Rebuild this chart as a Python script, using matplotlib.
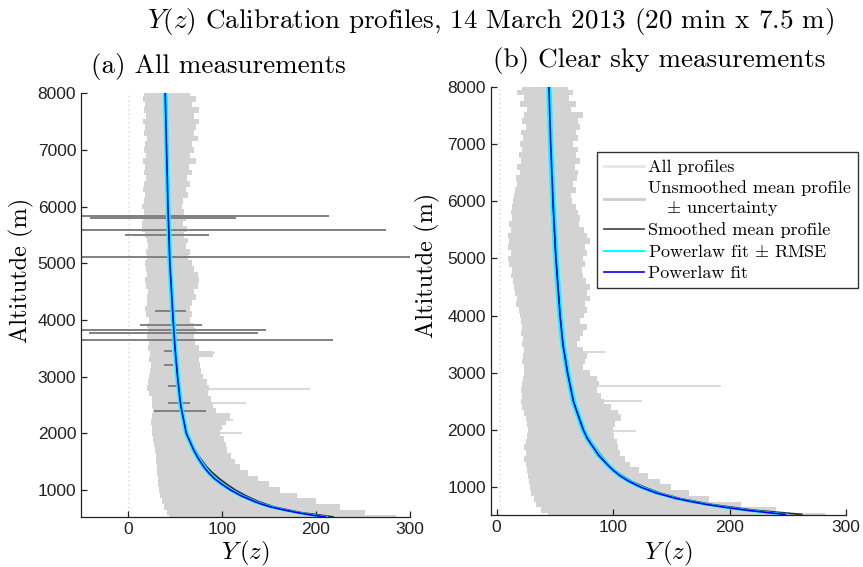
import numpy as np
import matplotlib.pyplot as plt
from matplotlib.lines import Line2D

plt.rcParams['mathtext.fontset'] = 'cm'
plt.rcParams['font.family'] = ['Liberation Sans', 'DejaVu Sans']
CM = 'cmr10'

# altitude grid of the profile envelopes (m), top to bottom
alt = np.arange(8000, 499, -100)

# (a) all measurements : edges of the grey profile band
band_a_left = [17, 16, 18, 17, 19, 16, 18, 17, 20, 18,
               17, 19, 16, 18, 17, 19, 17, 16, 18, 17,
               15, 17, 16, 15, 15, 18, 20, 21, 19, 20,
               18, 19, 20, 18, 19, 21, 20, 20, 18, 19,
               22, 20, 21, 20, 22, 21, 23, 22, 24, 23,
               22, 21, 20, 22, 25, 26, 27, 26, 24, 25,
               26, 27, 28, 29, 30, 30, 31, 31, 32, 32,
               33, 34, 36, 38, 41, 44]
band_a_right = [66, 72, 68, 75, 70, 76, 72, 70, 74, 68,
                70, 66, 72, 65, 68, 63, 66, 62, 64, 58,
                57, 60, 62, 58, 63, 60, 64, 62, 66, 64,
                68, 70, 74, 76, 74, 70, 72, 68, 66, 68,
                66, 70, 72, 70, 71, 76, 90, 75, 77, 78,
                80, 84, 86, 85, 88, 90, 94, 108, 104, 100,
                98, 102, 104, 105, 110, 114, 119, 128, 138, 150,
                162, 180, 200, 226, 252, 285]

# (b) clear sky measurements
band_b_left = [22, 18, 24, 20, 26, 24, 22, 25, 21, 23,
               20, 22, 19, 21, 18, 20, 17, 18, 16, 15,
               14, 13, 12, 13, 11, 12, 10, 11, 10, 12,
               10, 11, 13, 12, 14, 15, 16, 18, 17, 19,
               20, 21, 22, 21, 23, 22, 24, 23, 22, 24,
               24, 23, 22, 21, 22, 21, 22, 24, 25, 26,
               27, 26, 25, 24, 25, 24, 25, 26, 27, 28,
               29, 30, 32, 34, 38, 44]
band_b_right = [61, 66, 62, 68, 64, 74, 70, 72, 68, 70,
                66, 70, 68, 72, 67, 70, 69, 66, 68, 64,
                65, 68, 70, 72, 71, 75, 78, 80, 76, 78,
                74, 76, 73, 74, 77, 80, 78, 80, 76, 78,
                75, 72, 78, 74, 72, 69, 74, 78, 76, 74,
                80, 86, 88, 86, 90, 92, 98, 104, 107, 102,
                100, 101, 103, 104, 106, 110, 115, 122, 130, 140,
                150, 165, 182, 210, 240, 282]

# single long profile spikes (altitude, max Y)
spike_a_alt = [2779, 2533, 2237, 2002, 3410]
spike_a_x = [194, 126, 112, 121, 93]
spike_b_alt = [2768, 2506, 2270, 1982, 3368]
spike_b_x = [193, 125, 107, 120, 93]

# uncertainty bars of the unsmoothed mean, panel (a)
eb_alt = [5836, 5795, 5589, 5500, 5118, 4150, 3920, 3826, 3767, 3655, 3454, 3207, 2830, 2531, 2402]
eb_lo = [-55, -40, -55, -3, -55, 29, 13, -55, -42, -55, 38, 38, 43, 42, 28]
eb_hi = [214, 115, 274, 86, 305, 62, 79, 147, 138, 218, 47, 48, 52, 66, 83]

# smoothed mean profiles
sm_alt = [525, 600, 700, 800, 900, 1000, 1100, 1200, 1300, 1400, 1600,
          1800, 2000, 2300, 2600, 3000, 3500, 4000, 4500, 5000, 5500, 6000]
sm_a = [218, 184, 155, 138, 125, 114, 105, 97, 90, 84, 75,
        68, 63, 58, 55, 52, 50, 48, 47, 45, 44, 43]
sm_b = [262, 220, 184, 158, 140, 127, 116, 108, 101, 96, 88,
        81, 75, 69, 65, 61, 57, 55, 53, 51, 49, 48]

# power law fits
fit_alt = [525, 550, 600, 650, 700, 750, 800, 900, 1000, 1100, 1200, 1300, 1400,
           1550, 1700, 1850, 2000, 2500, 3000, 3500, 4000, 5000, 6000, 7000, 8000]
fit_a = [210, 198, 180, 165, 152, 142, 134, 120, 109, 100, 92, 86, 81,
         75, 70, 66, 62, 56, 52.7, 50, 48, 44.5, 42.5, 41, 39.6]
fit_b = [248, 236, 214, 196, 180, 167, 155, 137, 124, 114, 106, 100, 95,
         88, 83, 78, 74.5, 66, 61, 57, 54.5, 51, 48.5, 46.5, 45]
rmse = 1.5

fig = plt.figure(figsize=(8.63, 5.67), dpi=100)
ax1 = fig.add_axes([0.0939, 0.0887, 0.3812, 0.7467])
ax2 = fig.add_axes([0.5686, 0.0912, 0.4117, 0.7559])

panels = [
    (ax1, band_a_left, band_a_right, spike_a_alt, spike_a_x, sm_a, fit_a, (-50, 300), (528, 8000), 1),
    (ax2, band_b_left, band_b_right, spike_b_alt, spike_b_x, sm_b, fit_b, (-5, 300), (510, 8000), 3),
]

for ax, bl, br, s_alt, s_x, sm, fit, xl, yl, xdot in panels:
    ax.plot([xdot, xdot], [yl[0], 8000], color='#e2e2e2', ls=':', lw=1.2, zorder=1)
    ax.fill_betweenx(alt, bl, br, step='mid', color='#d3d3d3', lw=0, zorder=1)
    ax.hlines(s_alt, 50, s_x, color='#d3d3d3', lw=1.2, zorder=1)
    ax.plot(sm, sm_alt, color='#303030', lw=1.3, zorder=3)
    f = np.array(fit)
    ax.plot(f - rmse, fit_alt, color='cyan', lw=1.4, zorder=4)
    ax.plot(f + rmse, fit_alt, color='cyan', lw=1.4, zorder=4)
    ax.plot(f, fit_alt, color='blue', lw=1.2, zorder=5)

    ax.set_xlim(*xl)
    ax.set_ylim(*yl)
    ax.set_xticks([0, 100, 200, 300])
    ax.set_yticks(range(1000, 8001, 1000))
    for s in ['top', 'right']:
        ax.spines[s].set_visible(False)
    for s in ['left', 'bottom']:
        ax.spines[s].set_color('#222222')
        ax.spines[s].set_linewidth(0.9)
    ax.tick_params(direction='in', length=4, width=0.9, labelsize=12.5, colors='#222222')
    ax.set_ylabel('Altitutde (m)', family=CM, fontsize=17.5)
    ax.set_xlabel(r'$Y\,(z)$', fontsize=18)

ax1.hlines(eb_alt, eb_lo, eb_hi, color='#808080', lw=1.4, zorder=2)

ax1.yaxis.set_label_coords(-0.143, 0.583)
ax2.yaxis.set_label_coords(-0.143, 0.584)
ax1.xaxis.set_label_coords(0.50, -0.052)
ax2.xaxis.set_label_coords(0.50, -0.055)

fig.text(0.568, 0.951, r'$Y(z)$ Calibration profiles, 14 March 2013 (20 min x 7.5 m)',
         family=CM, fontsize=19.5, ha='center', va='baseline')
fig.text(0.253, 0.871, '(a) All measurements', family=CM, fontsize=19.5, ha='center', va='baseline')
fig.text(0.764, 0.882, '(b) Clear sky measurements', family=CM, fontsize=19.5, ha='center', va='baseline')

handles = [Line2D([], [], color='#e6e6e6', lw=2),
           Line2D([], [], color='#cccccc', lw=2),
           Line2D([], [], color='#404040', lw=1.2),
           Line2D([], [], color='cyan', lw=1.5),
           Line2D([], [], color='blue', lw=1.2)]
labels = ['All profiles',
          'Unsmoothed mean profile\n   $\\pm$ uncertainty',
          'Smoothed mean profile',
          'Powerlaw fit $\\pm$ RMSE',
          'Powerlaw fit']
leg = fig.legend(handles, labels, loc='upper left', bbox_to_anchor=(597 / 863, 1 - 152 / 567),
                 prop={'family': CM, 'size': 13}, frameon=True, fancybox=False,
                 edgecolor='black', handlelength=2.2, handletextpad=0.2,
                 labelspacing=0.28, borderpad=0.4, borderaxespad=0)
leg.get_frame().set_linewidth(1.0)

plt.savefig('out.png', dpi=100)
